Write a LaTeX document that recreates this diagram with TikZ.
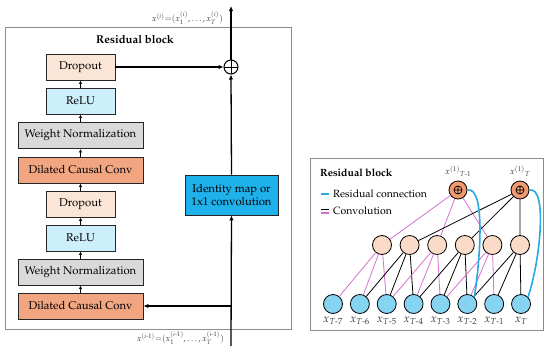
\documentclass[tikz,border=0pt]{standalone}
\usepackage[T1]{fontenc}
\usepackage{mathpazo}
\usepackage{amsmath}
\usetikzlibrary{arrows.meta}
\definecolor{dropfill}{HTML}{FBE5D6}
\definecolor{relufill}{HTML}{CDEFFC}
\definecolor{wnfill}{HTML}{D9D9D9}
\definecolor{dccfill}{HTML}{F2A581}
\definecolor{idfill}{HTML}{1FB1E9}
\definecolor{botfill}{HTML}{87D3F2}
\definecolor{midfill}{HTML}{FADBC8}
\definecolor{topfill}{HTML}{F19A70}
\definecolor{magline}{HTML}{D66FD0}
\definecolor{cyanline}{HTML}{29A9E1}
\definecolor{framegray}{HTML}{8C8C8C}
\begin{document}
\begin{tikzpicture}[x=1pt,y=-1pt,
  blk/.style={draw=black!85, line width=0.9pt, minimum height=26pt, inner sep=0pt, font=\fontsize{11.3}{13.5}\selectfont},
  widebox/.style={blk, minimum width=125pt},
  narrowbox/.style={blk, minimum width=69pt},
  frame/.style={draw=framegray, line width=0.9pt},
  oplusnode/.style={circle, draw=black, line width=1pt, minimum size=#1, inner sep=0pt,
    path picture={\draw[line width=0.8pt] (path picture bounding box.north) -- (path picture bounding box.south)
      (path picture bounding box.west) -- (path picture bounding box.east);}},
  smallarrow/.style={line width=0.9pt, -{Latex[length=3.5pt,width=3.5pt]}},
  mainarrow/.style={line width=1.3pt, -{Latex[length=5pt,width=4.5pt]}},
  cnode/.style={circle, draw=black, line width=0.8pt, minimum size=19pt, inner sep=0pt},
  botnode/.style={cnode, fill=botfill},
  midnode/.style={cnode, fill=midfill},
  topnode/.style={circle, draw=black, line width=0.8pt, minimum size=18pt, inner sep=0pt, fill=topfill,
    path picture={\draw[line width=0.7pt] (path picture bounding box.center) circle (4pt)
      ([yshift=4pt]path picture bounding box.center) -- ([yshift=-4pt]path picture bounding box.center)
      ([xshift=-4pt]path picture bounding box.center) -- ([xshift=4pt]path picture bounding box.center);}},
  blackconv/.style={black, line width=0.8pt},
  magconv/.style={magline, line width=0.8pt},
  resid/.style={cyanline, line width=1.6pt},
]
\useasboundingbox (0,0) rectangle (550,351);

% ---------------- Left panel ----------------
\draw[frame] (5,27) rectangle (291,329);
\node[font=\fontsize{11.3}{13}\selectfont\bfseries] (lt) at (135,39) {Residual block};

\node[narrowbox, fill=dropfill] (do1) at (80.5,67) {Dropout};
\node[narrowbox, fill=relufill] (re1) at (80.5,101) {ReLU};
\node[widebox, fill=wnfill] (wn1) at (80.5,135.5) {Weight Normalization};
\node[widebox, fill=dccfill] (dc1) at (80.5,170) {Dilated Causal Conv};
\node[narrowbox, fill=dropfill] (do2) at (80.5,204) {Dropout};
\node[narrowbox, fill=relufill] (re2) at (80.5,238) {ReLU};
\node[widebox, fill=wnfill] (wn2) at (80.5,272) {Weight Normalization};
\node[widebox, fill=dccfill] (dc2) at (80.5,306) {Dilated Causal Conv};

\node[blk, fill=idfill, minimum width=93pt, minimum height=40pt, align=center] (id) at (231.5,195) {Identity map or\\1x1 convolution};
\node[oplusnode=14pt] (plus) at (231,67) {};

\coordinate (outtop) at (231,6);
\coordinate (inbot) at (231,346);
\coordinate (branch) at (231,306);

\draw[smallarrow] (dc2.north) -- (wn2.south);
\draw[smallarrow] (wn2.north) -- (re2.south);
\draw[smallarrow] (re2.north) -- (do2.south);
\draw[smallarrow] (do2.north) -- (dc1.south);
\draw[smallarrow] (dc1.north) -- (wn1.south);
\draw[smallarrow] (wn1.north) -- (re1.south);
\draw[smallarrow] (re1.north) -- (do1.south);

\draw[mainarrow] (inbot) -- (id.south);
\draw[mainarrow] (id.north) -- (plus.south);
\draw[mainarrow] (plus.north) -- (outtop);
\draw[mainarrow] (do1.east) -- (plus.west);
\draw[mainarrow] (branch) -- (dc2.east);

\node[anchor=east, font=\fontsize{8.5}{10}\selectfont, text=black!75, inner sep=0pt] (toplab) at (223,18)
  {$x^{(i)}{=}(x_1^{(i)},\ldots,x_T^{(i)})$};
\node[anchor=east, font=\fontsize{8.5}{10}\selectfont, text=black!75, inner sep=0pt] (botlab) at (224,338)
  {$x^{(i\text{-}1)}{=}(x_1^{(i\text{-}1)},\ldots,x_T^{(i\text{-}1)})$};

% ---------------- Right panel ----------------
\draw[frame] (310,158) rectangle (543,330);
\node[anchor=west, font=\fontsize{10.5}{12}\selectfont\bfseries, inner sep=0pt] (rt) at (320,173) {Residual block};
\draw[resid, line width=1.4pt] (321,194) -- (329,194);
\node[anchor=west, font=\fontsize{10.5}{12}\selectfont, inner sep=0pt] (lg1) at (333,194) {Residual connection};
\draw[black, line width=1.2pt] (321,209.5) -- (329,209.5);
\draw[magline, line width=1.2pt] (321,213) -- (329,213);
\node[anchor=west, font=\fontsize{10.5}{12}\selectfont, inner sep=0pt] (lg2) at (333,211) {Convolution};

% bottom nodes
\foreach \i/\lab [count=\k from 0] in {1/{T\text{-}7},2/{T\text{-}6},3/{T\text{-}5},4/{T\text{-}4},5/{T\text{-}3},6/{T\text{-}2},7/{T\text{-}1},8/{T}} {
  \node[botnode] (b\i) at (333+26.86*\k,304) {};
  \node[font=\fontsize{11.5}{13}\selectfont, text=black!75, inner sep=0pt] (bl\i) at (333+26.86*\k,321) {$x_{\lab}$};
}
% middle nodes
\foreach \j [count=\k from 0] in {1,...,6} {
  \node[midnode] (m\j) at (382+27.6*\k,245) {};
}
% top nodes
\node[topnode] (t1) at (458,190) {};
\node[topnode] (t2) at (520,190) {};
\node[font=\fontsize{9}{11}\selectfont, text=black!75, inner sep=0pt] (tl1) at (458,171) {$x^{(1)}{}_{T\text{-}1}$};
\node[font=\fontsize{9}{11}\selectfont, text=black!75, inner sep=0pt] (tl2) at (520,171) {$x^{(1)}{}_{T}$};

% middle -> bottom convolutions
\foreach \j/\sty in {1/magconv,2/blackconv,3/magconv,4/blackconv,5/magconv,6/blackconv} {
  \pgfmathtruncatemacro{\ba}{\j}
  \pgfmathtruncatemacro{\bb}{\j+1}
  \pgfmathtruncatemacro{\bc}{\j+2}
  \draw[\sty] (m\j) -- (b\ba);
  \draw[\sty] (m\j) -- (b\bb);
  \draw[\sty] (m\j) -- (b\bc);
}
% top -> middle convolutions
\draw[magconv] (t1) -- (m1);
\draw[magconv] (t1) -- (m3);
\draw[magconv] (t1) -- (m5);
\draw[blackconv] (t2) -- (m2);
\draw[blackconv] (t2) -- (m4);
\draw[blackconv] (t2) -- (m6);

% residual connections
\draw[resid] (t1.east) .. controls (486,186) and (480,262) .. (b6.north east);
\draw[resid] (t2.east) .. controls (548,186) and (540,262) .. (b8.north east);
\end{tikzpicture}
\end{document}
